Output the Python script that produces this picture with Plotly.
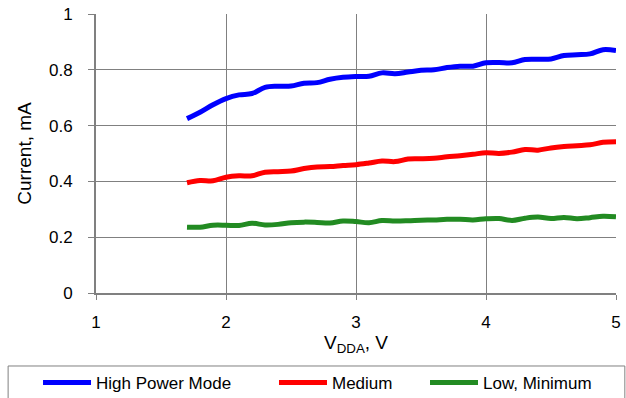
import plotly.graph_objects as go

# supply voltage, V
vdda = [1.7, 1.8, 1.9, 2.0, 2.1, 2.2, 2.3, 2.4, 2.5, 2.6, 2.7, 2.8, 2.9, 3.0, 3.1, 3.2, 3.3,
        3.4, 3.5, 3.6, 3.7, 3.8, 3.9, 4.0, 4.1, 4.2, 4.3, 4.4, 4.5, 4.6, 4.7, 4.8, 4.9, 5.0]

# current, mA
high_power = [0.625, 0.648, 0.675, 0.697, 0.710, 0.715, 0.737, 0.741, 0.742, 0.752, 0.754, 0.766,
              0.773, 0.776, 0.777, 0.789, 0.786, 0.792, 0.798, 0.800, 0.808, 0.813, 0.813, 0.825,
              0.826, 0.825, 0.837, 0.838, 0.839, 0.851, 0.854, 0.857, 0.872, 0.869]
medium = [0.395, 0.403, 0.402, 0.415, 0.420, 0.420, 0.433, 0.435, 0.437, 0.446, 0.452, 0.453,
          0.457, 0.460, 0.466, 0.473, 0.471, 0.480, 0.481, 0.483, 0.488, 0.492, 0.497, 0.503,
          0.500, 0.505, 0.514, 0.512, 0.520, 0.525, 0.528, 0.531, 0.540, 0.542]
low = [0.236, 0.236, 0.243, 0.243, 0.242, 0.250, 0.244, 0.246, 0.252, 0.254, 0.253, 0.251,
       0.258, 0.256, 0.252, 0.260, 0.258, 0.259, 0.261, 0.262, 0.264, 0.264, 0.262, 0.266,
       0.267, 0.260, 0.268, 0.272, 0.267, 0.271, 0.266, 0.270, 0.275, 0.273]

names = ["High Power Mode", "Medium", "Low, Minimum"]
colors = ["#0000ff", "#ff0000", "#228b22"]
legends = ["legend", "legend2", "legend3"]

fig = go.Figure()
for name, ys, col, lg in zip(names, [high_power, medium, low], colors, legends):
    fig.add_trace(go.Scatter(x=vdda, y=ys, name=name, mode="lines", legend=lg,
                             line=dict(color=col, width=5, shape="spline")))

grid = "#808080"
leg = dict(orientation="h", xanchor="left", y=-0.3226, yanchor="middle",
           font=dict(size=17), bgcolor="rgba(0,0,0,0)", itemwidth=48)

fig.update_layout(
    width=626, height=398,
    showlegend=True,
    margin=dict(l=96, r=10, t=14, b=105, autoexpand=False),
    paper_bgcolor="white", plot_bgcolor="white",
    font=dict(family="Liberation Sans, Arial, sans-serif", size=16, color="black"),
    xaxis=dict(range=[1, 5], dtick=1, showgrid=True, gridcolor=grid, gridwidth=1,
               showline=True, linecolor=grid, linewidth=2, ticks="outside", ticklen=5,
               tickcolor=grid, zeroline=False, automargin=False,
               tickfont=dict(size=17), ticklabelstandoff=8,
               title=dict(text="V<sub>DDA</sub>, V", standoff=4)),
    yaxis=dict(range=[0, 1], dtick=0.2, showgrid=True, gridcolor=grid, gridwidth=1,
               showline=True, linecolor=grid, linewidth=2, ticks="outside", ticklen=6,
               tickcolor=grid, zeroline=False, tickformat="~g", automargin=False,
               tickfont=dict(size=17), ticklabelstandoff=12,
               title=dict(text="Current, mA", standoff=12)),
    legend=dict(leg, x=-0.1115),
    legend2=dict(leg, x=0.3423),
    legend3=dict(leg, x=0.6327),
    shapes=[dict(type="rect", xref="paper", yref="paper", x0=-0.169, x1=1.017,
                 y0=-0.2616, y1=-0.42, line=dict(color=grid, width=1))],
)

# page body has a default 8px margin; drop it so the figure sits at the window corner
fig.write_html("out.html", config={"displayModeBar": False},
               post_script="document.body.style.margin='0px';")
